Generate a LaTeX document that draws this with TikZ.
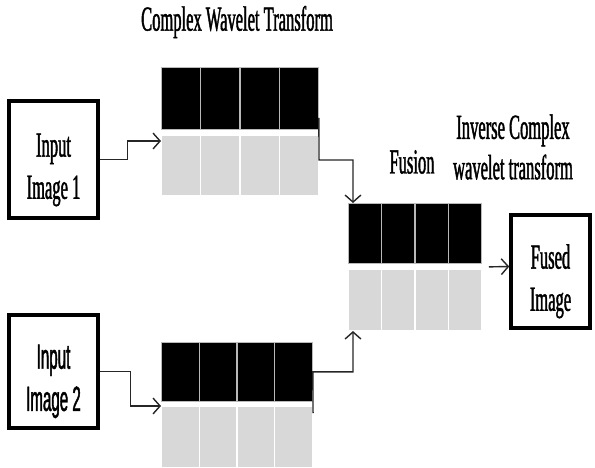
\documentclass[tikz,border=0pt]{standalone}
\usepackage{fontspec}
\setmainfont[FakeStretch=0.47,FakeBold=1.2]{Liberation Serif}
\newfontfamily\narrowsans[FakeStretch=0.43,FakeBold=1.2]{Liberation Sans}
\usepackage{tikz}
\usetikzlibrary{arrows.meta,calc}
\definecolor{cellgray}{RGB}{216,216,216}
\tikzset{
  imgbox/.style={
    rectangle,
    draw=black,
    line width=2pt,
    align=center,
    font=\fontsize{20}{24}\selectfont
  },
  blackcell/.style={
    rectangle,
    fill=black,
    draw=gray!55,
    line width=0.5pt,
    inner sep=0pt,
    anchor=north west
  },
  graycell/.style={
    rectangle,
    fill=cellgray,
    draw=white,
    line width=0.6pt,
    inner sep=0pt,
    anchor=north west
  },
  lbl/.style={align=center, font=\fontsize{20}{23}\selectfont},
  flow/.style={-{Straight Barb[length=4pt,width=9pt]}, line width=0.8pt, black!85}
}
% taller first line, so the box text sits a little low
\newcommand{\lowstrut}{\rule{0pt}{25pt}}

\begin{document}
\begin{tikzpicture}[x=0.02cm, y=-0.02cm]
\useasboundingbox (0,0) rectangle (595,467);

% input and output images
\node[imgbox, minimum width=1.78cm, minimum height=2.34cm] (in1) at (53.5,159.5) {\lowstrut Input\\Image 1};
\node[imgbox, minimum width=1.78cm, minimum height=2.26cm, font=\narrowsans\fontsize{20}{24}\selectfont] (in2) at (53.5,371.5) {\lowstrut Input\\Image 2};
\node[imgbox, minimum width=1.58cm, minimum height=2.26cm] (out) at (550.5,271.5) {\lowstrut Fused\\Image};

% coefficient blocks
\foreach \i in {1,...,4}{
  \node[blackcell, minimum width=0.785cm, minimum height=1.24cm] (b1k\i) at ({161+(\i-1)*39.25},67) {};
  \node[graycell, minimum width=0.785cm, minimum height=1.2cm] (b1g\i) at ({161+(\i-1)*39.25},135) {};
  \node[blackcell, minimum width=0.665cm, minimum height=1.2cm] (fk\i) at ({348+(\i-1)*33.25},203) {};
  \node[graycell, minimum width=0.665cm, minimum height=1.22cm] (fg\i) at ({348+(\i-1)*33.25},269) {};
  \node[blackcell, minimum width=0.755cm, minimum height=1.18cm] (b2k\i) at ({161+(\i-1)*37.75},342) {};
  \node[graycell, minimum width=0.755cm, minimum height=1.22cm] (b2g\i) at ({161+(\i-1)*37.75},406) {};
}

% labels
\node[lbl] (cwt) at (237,22) {Complex Wavelet Transform};
\node[lbl] (fus) at (412,162) {Fusion};
\node[lbl] (icwt) at (513,147) {Inverse Complex\\wavelet transform};

% connections
\draw[flow] (in1.east) -- ++(28,0) |- ($(b1g1.north west)+(0,6)$);
\draw[flow] ($(b1k4.south east)+(0,-12)$) -- ($(b1g4.north east)+(0,25)$) -| ($(fk1.north west)+(5,0)$);
\draw[flow] (in2.east) -- ++(31,0) |- (b2g1.north west);
\draw[flow] ($(b2g4.north east)+(0,7)$) -- (b2k4.east) -| ($(fg1.south west)+(5,0)$);
\draw[flow] ($(fk4.south east)+(7,3)$) -- ($(out.west)+(0,-5)$);
\end{tikzpicture}
\end{document}
